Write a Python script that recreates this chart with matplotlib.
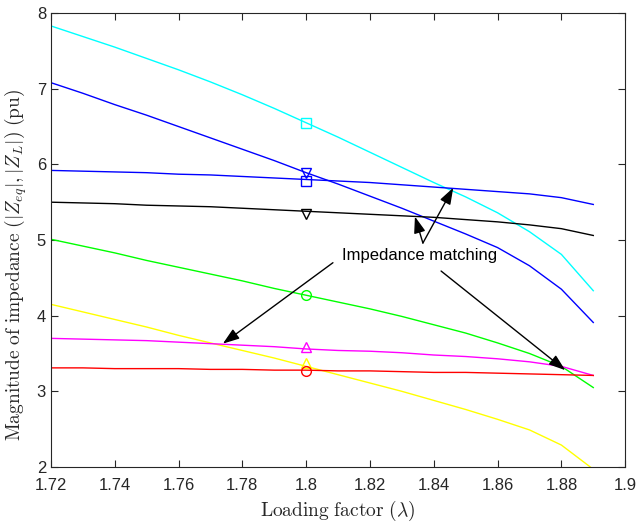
import matplotlib
matplotlib.use("Agg")
from matplotlib import pyplot as plt

plt.rcParams['font.family'] = ['Liberation Sans', 'DejaVu Sans']
plt.rcParams['mathtext.fontset'] = 'cm'

# loading factor
lam = [1.72, 1.73, 1.74, 1.75, 1.76, 1.77, 1.78, 1.79, 1.80,
       1.81, 1.82, 1.83, 1.84, 1.85, 1.86, 1.87, 1.88, 1.89]

# curves
z_cyan = [7.83, 7.69, 7.55, 7.40, 7.25, 7.09, 6.92, 6.74, 6.55,
          6.36, 6.16, 5.96, 5.76, 5.57, 5.36, 5.11, 4.81, 4.33]
z_blue1 = [7.08, 6.94, 6.79, 6.65, 6.50, 6.35, 6.20, 6.05, 5.89,
           5.74, 5.58, 5.42, 5.25, 5.08, 4.90, 4.66, 4.35, 3.91]
z_blue2 = [5.92, 5.91, 5.90, 5.89, 5.87, 5.86, 5.84, 5.82, 5.80,
           5.78, 5.76, 5.73, 5.70, 5.67, 5.64, 5.61, 5.56, 5.47]
z_black = [5.50, 5.49, 5.48, 5.46, 5.45, 5.44, 5.42, 5.40, 5.38,
           5.36, 5.34, 5.32, 5.30, 5.27, 5.24, 5.20, 5.15, 5.06]
z_green = [5.01, 4.92, 4.83, 4.73, 4.64, 4.55, 4.46, 4.36, 4.27,
           4.18, 4.09, 3.99, 3.88, 3.77, 3.64, 3.50, 3.33, 3.05]
z_yellow = [4.15, 4.05, 3.95, 3.85, 3.74, 3.64, 3.54, 3.44, 3.33,
            3.22, 3.11, 3.00, 2.88, 2.76, 2.63, 2.49, 2.29, 1.97]
z_mag = [3.70, 3.69, 3.68, 3.67, 3.65, 3.63, 3.61, 3.59, 3.56,
         3.54, 3.53, 3.51, 3.48, 3.46, 3.43, 3.39, 3.33, 3.21]
z_red = [3.31, 3.31, 3.30, 3.30, 3.30, 3.29, 3.29, 3.28, 3.28,
         3.27, 3.27, 3.26, 3.25, 3.25, 3.24, 3.23, 3.22, 3.21]

# single markers at lambda = 1.8
mk_x = 1.8
mk_y = [6.55, 5.78, 5.88, 5.35, 4.27, 3.38, 3.58, 3.27]
mk_style = ['s', 's', 'v', 'v', 'o', '^', '^', 'o']
mk_color = ['#00ffff', '#0000ff', '#0000ff', 'k', '#00ff00', '#ffff00', '#ff00ff', '#ff0000']

fig = plt.figure(figsize=(6.36, 5.22), dpi=100)
ax = fig.add_axes([0.080, 0.1054, 0.903, 0.8696])

lw = 1.0
ax.plot(lam, z_cyan, color='#00ffff', lw=lw)
ax.plot(lam, z_blue1, color='#0000ff', lw=lw)
ax.plot(lam, z_blue2, color='#0000ff', lw=lw)
ax.plot(lam, z_black, color='k', lw=lw)
ax.plot(lam, z_green, color='#00ff00', lw=lw)
ax.plot(lam, z_yellow, color='#ffff00', lw=lw)
ax.plot(lam, z_mag, color='#ff00ff', lw=lw)
ax.plot(lam, z_red, color='#ff0000', lw=lw)

for y, m, c in zip(mk_y, mk_style, mk_color):
    ax.plot(mk_x, y, marker=m, color=c, mfc='none', ms=7, mew=1.0)

# annotations
ax.text(1.8354, 4.80, 'Impedance matching', ha='center', va='center', fontsize=12)
aprops = dict(arrowstyle='-|>,head_length=1.0,head_width=0.35', color='k', lw=1.0,
              shrinkA=0, shrinkB=0)
ax.annotate('', xy=(1.7739, 3.63), xytext=(1.8084, 4.70), arrowprops=aprops)
ax.annotate('', xy=(1.8812, 3.28), xytext=(1.8423, 4.59), arrowprops=aprops)
ax.annotate('', xy=(1.8341, 5.31), xytext=(1.8366, 4.96), arrowprops=aprops)
ax.annotate('', xy=(1.8461, 5.69), xytext=(1.8366, 4.96), arrowprops=aprops)

ax.set_xlim(1.72, 1.9)
ax.set_ylim(2, 8)
ax.set_xticks([1.72, 1.74, 1.76, 1.78, 1.8, 1.82, 1.84, 1.86, 1.88, 1.9])
ax.set_xticklabels(['1.72', '1.74', '1.76', '1.78', '1.8', '1.82', '1.84', '1.86', '1.88', '1.9'])
ax.set_yticks([2, 3, 4, 5, 6, 7, 8])

for s in ax.spines.values():
    s.set_color('#262626')
    s.set_linewidth(0.8)
ax.tick_params(direction='in', top=True, right=True, length=5, width=0.8,
               colors='#262626', labelsize=12, labelcolor='#262626')
ax.tick_params(axis='x', pad=8)

ax.set_xlabel(r'$\mathrm{Loading\ factor}\ (\lambda)$', fontsize=14, color='#262626')
ax.set_ylabel(r'$\mathrm{Magnitude\ of\ impedance}\ (|Z_{eq}|, |Z_L|)\ \mathrm{(pu)}$',
              fontsize=14, color='#262626')
ax.yaxis.set_label_coords(-0.038, 0.445)

fig.savefig('out.png', dpi=100)
